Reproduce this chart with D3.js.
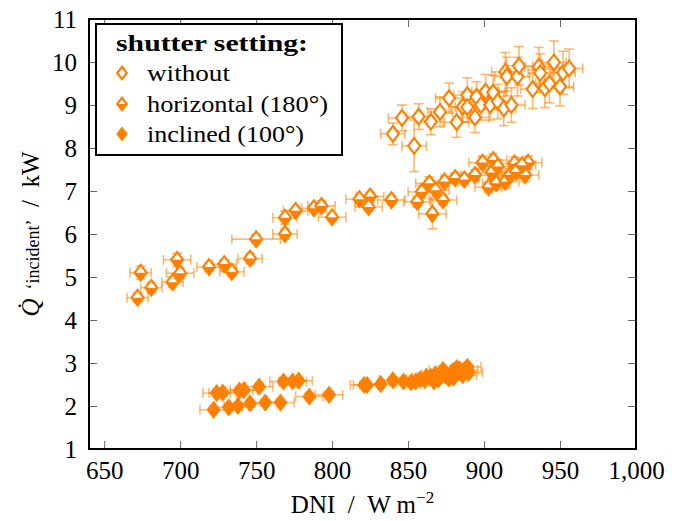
<!DOCTYPE html>
<html><head><meta charset="utf-8">
<script src="https://cdn.jsdelivr.net/npm/d3@7"></script>
<style>body{margin:0;background:#fff}svg{display:block}</style>
</head><body>
<svg id="chart" width="681" height="521"></svg>
<script>
// ---- data ----
const xTicks = [650, 700, 750, 800, 850, 900, 950, 1000];
const yTicks = [1, 2, 3, 4, 5, 6, 7, 8, 9, 10, 11];
const legendTitle = "shutter setting:";
const seriesNames = ["without", "horizontal (180°)", "inclined (100°)"];

// shutter: without (hollow)
const withoutX = [840, 854, 846, 857, 865, 871, 877, 882, 886, 889, 889, 895, 894, 898, 901, 904, 906, 909, 913, 914, 915, 918, 922, 923, 932, 936, 937, 940, 943, 946, 950, 952, 956];
const withoutY = [8.33, 8.05, 8.70, 8.73, 8.61, 8.84, 9.16, 8.60, 8.96, 9.23, 8.95, 9.19, 8.71, 9.00, 9.31, 9.00, 9.29, 9.08, 8.92, 9.77, 9.66, 9.00, 9.66, 9.91, 9.37, 9.89, 9.74, 9.39, 9.50, 9.99, 9.43, 9.75, 9.85];
const withoutXErr = [8, 8, 9, 8, 8, 8, 9, 8, 8, 9, 8, 8, 9, 8, 9, 8, 8, 9, 8, 9, 8, 9, 8, 9, 8, 9, 8, 8, 9, 8, 9, 8, 9];
const withoutYErr = [0.25, 0.6, 0.3, 0.3, 0.3, 0.35, 0.35, 0.35, 0.35, 0.4, 0.35, 0.35, 0.35, 0.35, 0.4, 0.35, 0.4, 0.4, 0.4, 0.45, 0.45, 0.4, 0.45, 0.45, 0.45, 0.45, 0.45, 0.45, 0.45, 0.5, 0.45, 0.5, 0.45];

// shutter: horizontal 180° (half filled)
const horizX = [672, 674, 681, 695, 698, 700, 719, 729, 734, 746, 750, 769, 769, 776, 788, 793, 800, 818, 825, 824, 839, 856, 859, 864, 868, 873, 866, 874, 881, 887, 894, 899, 906, 905, 903, 909, 908, 914, 917, 920, 921, 927, 929, 925];
const horizY = [4.52, 5.10, 4.75, 4.88, 5.40, 5.09, 5.23, 5.30, 5.12, 5.43, 5.88, 6.00, 6.38, 6.54, 6.60, 6.65, 6.39, 6.81, 6.87, 6.63, 6.79, 6.75, 6.98, 7.18, 7.02, 6.79, 6.47, 7.22, 7.30, 7.27, 7.37, 7.66, 7.72, 7.43, 7.09, 7.57, 7.18, 7.22, 7.37, 7.64, 7.45, 7.37, 7.66, 7.60];
const horizXErr = [7, 7, 7, 7, 9, 9, 8, 8, 8, 8, 16, 8, 8, 8, 8, 9, 9, 9, 9, 9, 9, 9, 9, 9, 9, 9, 9, 9, 9, 9, 9, 9, 9, 9, 9, 9, 9, 9, 9, 9, 9, 9, 9, 9];
const horizYErr = [0.1, 0.15, 0.12, 0.12, 0.15, 0.12, 0.1, 0.1, 0.1, 0.12, 0.1, 0.12, 0.15, 0.1, 0.1, 0.12, 0.1, 0.1, 0.1, 0.1, 0.1, 0.12, 0.15, 0.15, 0.15, 0.12, 0.35, 0.12, 0.12, 0.12, 0.12, 0.15, 0.15, 0.15, 0.12, 0.15, 0.15, 0.15, 0.15, 0.15, 0.15, 0.15, 0.15, 0.15];

// shutter: inclined 100° (filled)
const inclX = [722, 724, 728, 732, 738, 739, 742, 746, 752, 756, 766, 768, 774, 778, 785, 798, 821, 823, 832, 840, 847, 855, 861, 865, 871, 873, 882, 889, 886, 877, 867, 875, 879, 884, 880, 870, 862, 858, 852, 890, 887, 868];
const inclY = [1.91, 2.30, 2.31, 1.97, 2.00, 2.36, 2.37, 2.06, 2.45, 2.08, 2.08, 2.57, 2.57, 2.59, 2.22, 2.26, 2.49, 2.49, 2.51, 2.60, 2.57, 2.57, 2.60, 2.68, 2.76, 2.84, 2.88, 2.91, 2.72, 2.64, 2.57, 2.70, 2.80, 2.85, 2.66, 2.62, 2.68, 2.62, 2.55, 2.78, 2.84, 2.74];
const inclXErr = [9, 9, 9, 9, 9, 9, 9, 9, 9, 9, 9, 9, 9, 9, 9, 9, 9, 9, 9, 9, 9, 9, 9, 9, 9, 9, 9, 9, 9, 9, 9, 9, 9, 9, 9, 9, 9, 9, 9, 9, 9, 9];
const inclYErr = [0.08, 0.08, 0.08, 0.08, 0.08, 0.08, 0.08, 0.08, 0.08, 0.08, 0.08, 0.08, 0.08, 0.08, 0.08, 0.08, 0.08, 0.08, 0.08, 0.08, 0.08, 0.08, 0.08, 0.08, 0.08, 0.08, 0.08, 0.08, 0.08, 0.08, 0.08, 0.08, 0.08, 0.08, 0.08, 0.08, 0.08, 0.08, 0.08, 0.08, 0.08, 0.08];

// ---- drawing ----
const W = 681, H = 521;
const m = {left: 89, right: 45, top: 19, bottom: 72};
const orange = "#ff8000";
const font = "'Liberation Serif', 'Times New Roman', serif";
const svg = d3.select("#chart");
svg.append("rect").attr("width", W).attr("height", H).attr("fill", "#fff");

const x = d3.scaleLinear().domain([640, 1000]).range([m.left, W - m.right]);
const y = d3.scaleLinear().domain([1, 11]).range([H - m.bottom, m.top]);

const plot = svg.append("g");

function zip(xs, ys, xe, ye) { return xs.map((v, i) => ({x: v, y: ys[i], xe: xe[i], ye: ye[i]})); }
const series = [
  {name: seriesNames[0], kind: "hollow", data: zip(withoutX, withoutY, withoutXErr, withoutYErr)},
  {name: seriesNames[1], kind: "half", data: zip(horizX, horizY, horizXErr, horizYErr)},
  {name: seriesNames[2], kind: "full", data: zip(inclX, inclY, inclXErr, inclYErr)}
];

const dw = 6, dh = 7.8;
function drawMarker(g, cx, cy, kind, s) {
  const w = dw * s, h = dh * s;
  const dpath = `M${cx},${cy - h}L${cx + w},${cy}L${cx},${cy + h}L${cx - w},${cy}Z`;
  if (kind === "full") {
    g.append("path").attr("d", dpath).attr("fill", orange).attr("stroke", orange).attr("stroke-width", 1.6).attr("stroke-linejoin", "miter");
  } else {
    g.append("path").attr("d", dpath).attr("fill", "#fff");
    if (kind === "half") {
      g.append("path").attr("d", `M${cx - w},${cy}L${cx + w},${cy}L${cx},${cy + h}Z`).attr("fill", orange);
    }
    g.append("path").attr("d", dpath).attr("fill", "none").attr("stroke", orange).attr("stroke-width", 2.2).attr("stroke-linejoin", "miter");
  }
}

const cap = 5;
series.forEach(s => {
  const g = plot.append("g");
  const eb = g.append("g").attr("stroke", orange).attr("stroke-opacity", 0.55).attr("stroke-width", 1.6).attr("fill", "none");
  s.data.forEach(d => {
    const cx = x(d.x), cy = y(d.y);
    const x0 = x(d.x - d.xe), x1 = x(d.x + d.xe), y0 = y(d.y - d.ye), y1 = y(d.y + d.ye);
    eb.append("line").attr("x1", x0).attr("x2", x1).attr("y1", cy).attr("y2", cy);
    eb.append("line").attr("x1", cx).attr("x2", cx).attr("y1", y0).attr("y2", y1);
    eb.append("line").attr("x1", x0).attr("x2", x0).attr("y1", cy - cap).attr("y2", cy + cap);
    eb.append("line").attr("x1", x1).attr("x2", x1).attr("y1", cy - cap).attr("y2", cy + cap);
    eb.append("line").attr("x1", cx - cap).attr("x2", cx + cap).attr("y1", y0).attr("y2", y0);
    eb.append("line").attr("x1", cx - cap).attr("x2", cx + cap).attr("y1", y1).attr("y2", y1);
  });
  s.data.forEach(d => drawMarker(g, x(d.x), y(d.y), s.kind, 1));
});

// axes with inward ticks on all sides
const tickLen = 8;
const fmt = d3.format(",");
const axB = d3.axisBottom(x).tickValues(xTicks).tickSizeInner(-tickLen).tickSizeOuter(0).tickPadding(12).tickFormat(fmt);
const axT = d3.axisTop(x).tickValues(xTicks).tickSizeInner(-tickLen).tickSizeOuter(0).tickFormat("");
const axL = d3.axisLeft(y).tickValues(yTicks).tickSizeInner(-tickLen).tickSizeOuter(0).tickPadding(12).tickFormat(d3.format("d"));
const axR = d3.axisRight(y).tickValues(yTicks).tickSizeInner(-tickLen).tickSizeOuter(0).tickFormat("");

function styleAxis(g) {
  g.select(".domain").remove();
  g.selectAll(".tick line").attr("stroke", "#666").attr("stroke-width", 1);
  g.selectAll(".tick text").attr("font-family", font).attr("font-size", 25).attr("fill", "#000");
}
svg.append("g").attr("transform", `translate(0,${H - m.bottom})`).call(axB).call(styleAxis);
svg.append("g").attr("transform", `translate(0,${m.top})`).call(axT).call(styleAxis);
svg.append("g").attr("transform", `translate(${m.left},0)`).call(axL).call(styleAxis);
svg.append("g").attr("transform", `translate(${W - m.right},0)`).call(axR).call(styleAxis);

// frame
svg.append("rect").attr("x", m.left).attr("y", m.top).attr("width", W - m.left - m.right).attr("height", H - m.top - m.bottom)
  .attr("fill", "none").attr("stroke", "#000").attr("stroke-width", 2);

// axis titles
const xt = svg.append("text").attr("x", (m.left + W - m.right) / 2).attr("y", 513).attr("text-anchor", "middle")
  .attr("font-family", font).attr("font-size", 25).attr("fill", "#000");
xt.append("tspan").text("DNI\u2002/\u2002W m");
xt.append("tspan").attr("font-size", 17).attr("dy", -10).text("−2");

const yt = svg.append("text").attr("transform", `translate(39,${(m.top + H - m.bottom) / 2}) rotate(-90)`).attr("text-anchor", "middle")
  .attr("font-family", font).attr("font-size", 25).attr("fill", "#000");
yt.append("tspan").attr("font-style", "italic").text("Q\u0307");
yt.append("tspan").attr("font-size", 18).text("\u2002‘incident’");
yt.append("tspan").text("\u2002/\u2002kW");

// legend
const lg = svg.append("g");
lg.append("rect").attr("x", 96).attr("y", 24).attr("width", 246).attr("height", 131).attr("fill", "#fff").attr("stroke", "#000").attr("stroke-width", 2);
lg.append("text").attr("x", 116).attr("y", 51).attr("font-family", font).attr("font-weight", "bold").attr("font-size", 24)
  .attr("textLength", 192).attr("lengthAdjust", "spacingAndGlyphs").text(legendTitle);
const rowY = [73, 104, 134];
const rowW = [83, 181, 157];
series.forEach((s, i) => {
  drawMarker(lg, 122, rowY[i], s.kind, 0.8);
  lg.append("text").attr("x", 147).attr("y", rowY[i] + 8).attr("font-family", font).attr("font-size", 24)
    .attr("textLength", rowW[i]).attr("lengthAdjust", "spacingAndGlyphs").text(s.name);
});
</script>
</body></html>
